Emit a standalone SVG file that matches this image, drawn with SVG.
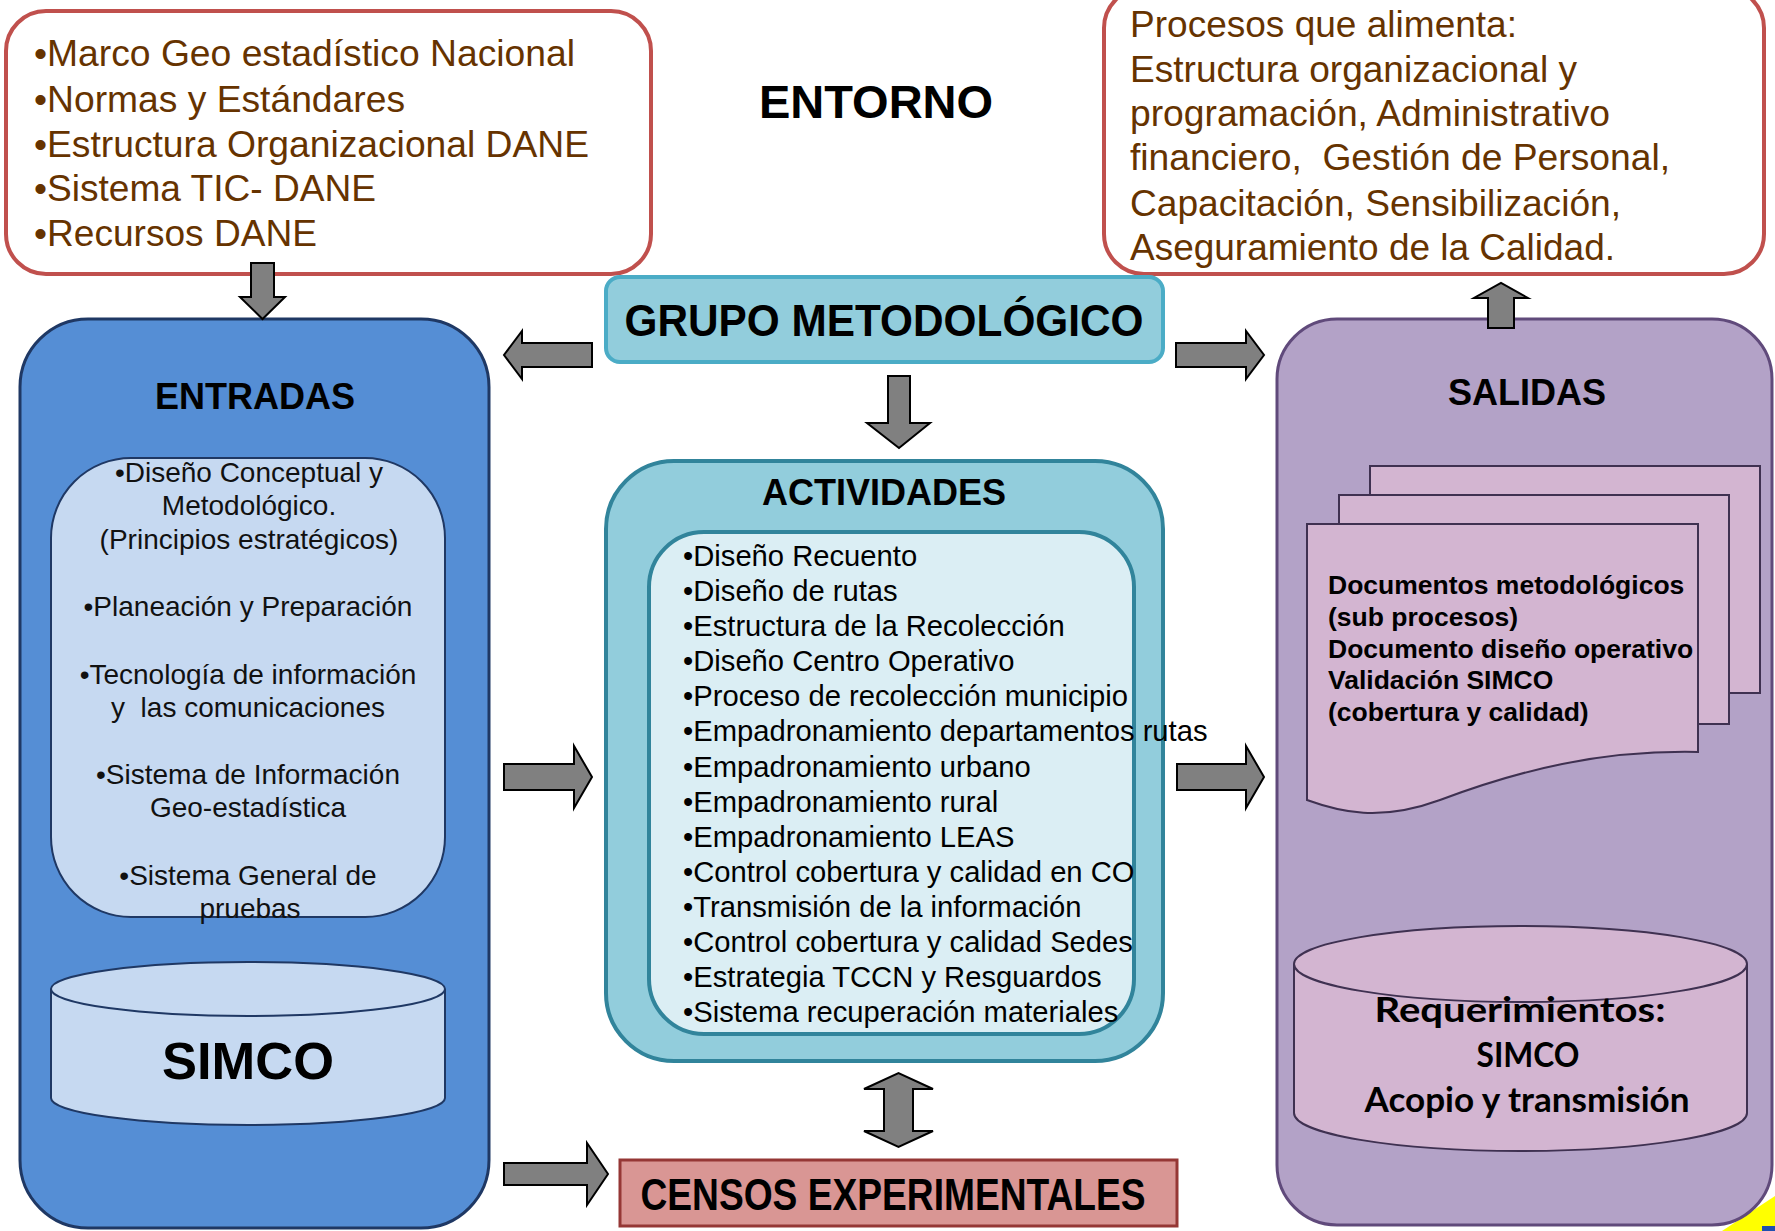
<svg xmlns="http://www.w3.org/2000/svg" width="1775" height="1231" viewBox="0 0 1775 1231">
<style>
.brown{font-family:"Liberation Sans Narrow","Liberation Sans",Arial,sans-serif;font-size:36px;fill:#663300}
.narrowb{font-family:"Liberation Sans Narrow","Liberation Sans",Arial,sans-serif;font-weight:bold;fill:#000;text-anchor:middle}
.title{font-family:"Liberation Sans",Arial,sans-serif;font-weight:bold;font-size:36px;fill:#000;text-anchor:middle}
.ent{font-family:"Liberation Sans",Arial,sans-serif;font-size:28px;fill:#111;text-anchor:middle}
.act{font-family:"Liberation Sans",Arial,sans-serif;font-size:29.2px;fill:#000}
.doc{font-family:"Liberation Sans",Arial,sans-serif;font-weight:bold;font-size:26.5px;fill:#000}
.req{font-family:Lato,"Open Sans","Liberation Sans",sans-serif;font-weight:bold;font-size:34px;fill:#000;text-anchor:middle}
.redbox{fill:#fff;stroke:#c0504d;stroke-width:4}
.arrow{fill:#808080;stroke:#000;stroke-width:2}
</style>
<rect width="1775" height="1231" fill="#fff"/>
<path d="M1722,1231 L1775,1196 V1231 Z" fill="#ffff00"/>
<rect x="1762" y="1226" width="13" height="5" fill="#1f4fb0"/>

<g id="entorno-top-left">
<rect class="redbox" x="6" y="11" width="645" height="263" rx="40"/>
<text class="brown" x="34" y="66" textLength="541" lengthAdjust="spacingAndGlyphs">•Marco Geo estadístico Nacional</text>
<text class="brown" x="34" y="112" textLength="371" lengthAdjust="spacingAndGlyphs">•Normas y Estándares</text>
<text class="brown" x="34" y="157" textLength="555" lengthAdjust="spacingAndGlyphs">•Estructura Organizacional DANE</text>
<text class="brown" x="34" y="201" textLength="342" lengthAdjust="spacingAndGlyphs">•Sistema TIC- DANE</text>
<text class="brown" x="34" y="246" textLength="283" lengthAdjust="spacingAndGlyphs">•Recursos DANE</text>
</g>

<g id="entorno-label">
<text class="title" x="876" y="118" style="font-size:47px">ENTORNO</text>
</g>

<g id="entorno-top-right">
<rect class="redbox" x="1104" y="-12" width="660" height="286" rx="40"/>
<text class="brown" x="1130" y="37" textLength="387" lengthAdjust="spacingAndGlyphs">Procesos que alimenta:</text>
<text class="brown" x="1130" y="82" textLength="447" lengthAdjust="spacingAndGlyphs">Estructura organizacional y</text>
<text class="brown" x="1130" y="126" textLength="480" lengthAdjust="spacingAndGlyphs">programación, Administrativo</text>
<text class="brown" x="1130" y="170" textLength="540" lengthAdjust="spacingAndGlyphs" xml:space="preserve">financiero,  Gestión de Personal,</text>
<text class="brown" x="1130" y="216" textLength="491" lengthAdjust="spacingAndGlyphs">Capacitación, Sensibilización,</text>
<text class="brown" x="1130" y="260" textLength="485" lengthAdjust="spacingAndGlyphs">Aseguramiento de la Calidad.</text>
</g>

<g id="grupo-metodologico">
<rect x="606" y="277" width="557" height="85" rx="14" fill="#92cddc" stroke="#4bacc6" stroke-width="4"/>
<text class="narrowb" x="884" y="336" style="font-size:44px" textLength="519" lengthAdjust="spacingAndGlyphs">GRUPO METODOLÓGICO</text>
</g>

<g id="entradas">
<rect x="20" y="319" width="469" height="909" rx="68" fill="#558ed5" stroke="#1f3864" stroke-width="3"/>
<text class="title" x="255" y="409">ENTRADAS</text>
<rect x="51" y="458" width="394" height="459" rx="80" fill="#c6d9f1" stroke="#1f3864" stroke-width="2"/>
<text class="ent" x="249" y="482">•Diseño Conceptual y</text>
<text class="ent" x="249" y="515">Metodológico.</text>
<text class="ent" x="249" y="549">(Principios estratégicos)</text>
<text class="ent" x="248" y="616">•Planeación y Preparación</text>
<text class="ent" x="248" y="684">•Tecnología de información</text>
<text class="ent" x="248" y="717" xml:space="preserve">y  las comunicaciones</text>
<text class="ent" x="248" y="784">•Sistema de Información</text>
<text class="ent" x="248" y="817">Geo-estadística</text>
<text class="ent" x="248" y="885">•Sistema General de</text>
<text class="ent" x="250" y="918">pruebas</text>
</g>

<g id="simco-entradas">
<path d="M51,989 V1098 A197,27 0 0 0 445,1098 V989" fill="#c6d9f1" stroke="#1f3864" stroke-width="2"/>
<ellipse cx="248" cy="989" rx="197" ry="27" fill="#c6d9f1" stroke="#1f3864" stroke-width="2"/>
<text class="narrowb" x="248" y="1079" style="font-size:52px" textLength="172" lengthAdjust="spacingAndGlyphs">SIMCO</text>
</g>

<g id="actividades">
<rect x="606" y="461" width="557" height="600" rx="68" fill="#92cddc" stroke="#31849b" stroke-width="4"/>
<text class="title" x="884" y="505">ACTIVIDADES</text>
<rect x="649" y="532" width="485" height="502" rx="55" fill="#dbeef4" stroke="#31849b" stroke-width="4"/>
<text class="act" x="683" y="566">•Diseño Recuento</text>
<text class="act" x="683" y="601">•Diseño de rutas</text>
<text class="act" x="683" y="636">•Estructura de la Recolección</text>
<text class="act" x="683" y="671">•Diseño Centro Operativo</text>
<text class="act" x="683" y="706">•Proceso de recolección municipio</text>
<text class="act" x="683" y="741">•Empadronamiento departamentos rutas</text>
<text class="act" x="683" y="777">•Empadronamiento urbano</text>
<text class="act" x="683" y="812">•Empadronamiento rural</text>
<text class="act" x="683" y="847">•Empadronamiento LEAS</text>
<text class="act" x="683" y="882">•Control cobertura y calidad en CO</text>
<text class="act" x="683" y="917">•Transmisión de la información</text>
<text class="act" x="683" y="952">•Control cobertura y calidad Sedes</text>
<text class="act" x="683" y="987">•Estrategia TCCN y Resguardos</text>
<text class="act" x="683" y="1022">•Sistema recuperación materiales</text>
</g>

<g id="salidas">
<rect x="1277" y="319" width="495" height="906" rx="60" fill="#b3a2c7" stroke="#604a7b" stroke-width="3"/>
<text class="title" x="1527" y="405">SALIDAS</text>
<rect x="1370" y="466" width="390" height="227" fill="#d3b5d1" stroke="#3f3151" stroke-width="2"/>
<rect x="1339" y="495" width="390" height="229" fill="#d3b5d1" stroke="#3f3151" stroke-width="2"/>
<path d="M1307,524 H1698 V752 C1600,750 1520,770 1440,800 C1380,822 1340,812 1307,800 Z" fill="#d3b5d1" stroke="#3f3151" stroke-width="2"/>
<text class="doc" x="1328" y="594">Documentos metodológicos</text>
<text class="doc" x="1328" y="626">(sub procesos)</text>
<text class="doc" x="1328" y="658">Documento diseño operativo</text>
<text class="doc" x="1328" y="689">Validación SIMCO</text>
<text class="doc" x="1328" y="721">(cobertura y calidad)</text>
</g>

<g id="requerimientos">
<path d="M1294,964 V1113 A226.5,38 0 0 0 1747,1113 V964" fill="#d3b5d1" stroke="#3f3151" stroke-width="2"/>
<ellipse cx="1520.5" cy="964" rx="226.5" ry="38" fill="#d3b5d1" stroke="#3f3151" stroke-width="2"/>
<text class="req" x="1520" y="1022" textLength="291" lengthAdjust="spacingAndGlyphs">Requerimientos:</text>
<text class="req" x="1528" y="1067" textLength="103" lengthAdjust="spacingAndGlyphs">SIMCO</text>
<text class="req" x="1527" y="1112" textLength="325" lengthAdjust="spacingAndGlyphs">Acopio y transmisión</text>
</g>

<g id="censos-experimentales">
<rect x="620" y="1160" width="557" height="66" fill="#d99694" stroke="#953735" stroke-width="3"/>
<text class="narrowb" x="893" y="1210" style="font-size:44px" textLength="505" lengthAdjust="spacingAndGlyphs">CENSOS EXPERIMENTALES</text>
</g>

<g id="connectors">
<path class="arrow" d="M251,263 H274 V297 H285 L262.5,319 L240,297 H251 Z"/>
<path class="arrow" d="M592,343 V367 H522 V379 L504,355 L522,331 V343 Z"/>
<path class="arrow" d="M1176,343 V367 H1246 V379 L1264,355 L1246,331 V343 Z"/>
<path class="arrow" d="M888,376 H910 V423 H930 L899,448 L867,423 H888 Z"/>
<path class="arrow" d="M1488,328 V298 H1474 L1501,283 L1528,298 H1514 V328 Z"/>
<path class="arrow" d="M504,764 H574 V746 L592,777 L574,808 V790 H504 Z"/>
<path class="arrow" d="M1177,764 H1246 V746 L1264,777 L1246,808 V790 H1177 Z"/>
<path class="arrow" d="M504,1163 H587 V1143 L608,1174 L587,1205 V1185 H504 Z"/>
<path class="arrow" d="M884,1089 H864 L898.5,1073 L933,1089 H913 V1131 H933 L898.5,1147 L864,1131 H884 Z"/>
</g>
</svg>
